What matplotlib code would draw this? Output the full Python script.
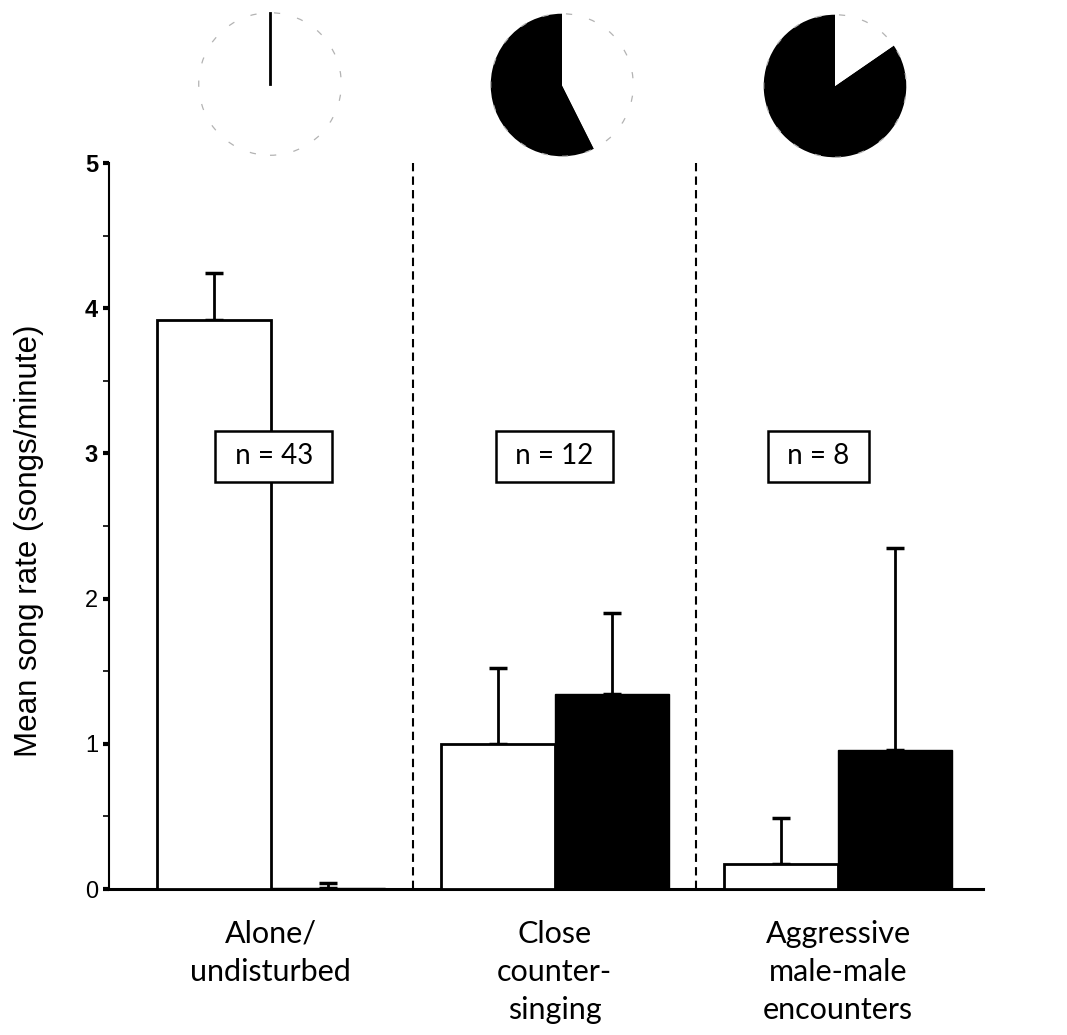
import matplotlib.pyplot as plt
from matplotlib.patches import Circle

# song rate per context, mean and upper SE
contexts = ["Alone/\nundisturbed", "Close\ncounter-\nsinging", "Aggressive\nmale-male\nencounters"]
white_mean = [3.92, 1.00, 0.17]
white_err = [0.32, 0.52, 0.32]
black_mean = [0.01, 1.34, 0.96]
black_err = [0.03, 0.56, 1.39]
n_birds = [43, 12, 8]
# share of black in the pies above each group
black_share = [0.0, 0.574, 0.846]

W, H = 1067, 1035
fig = plt.figure(figsize=(W / 100, H / 100), dpi=100)

def px_axes(x0, y0, x1, y1):
    # axes from pixel box (top-left origin)
    return fig.add_axes([x0 / W, 1 - y1 / H, (x1 - x0) / W, (y1 - y0) / H])

ax = px_axes(109, 163, 983, 889)
bw = 0.402
x = list(range(len(contexts)))

ax.bar([i - bw / 2 for i in x], white_mean, bw, color="white", edgecolor="black", linewidth=2, zorder=3)
ax.bar([i + bw / 2 for i in x], black_mean, bw, color="black", edgecolor="black", linewidth=1, zorder=3)
ax.errorbar([i - bw / 2 for i in x], white_mean, yerr=[[0] * 3, white_err], fmt="none",
            ecolor="black", elinewidth=2, capsize=6.5, capthick=2.5, zorder=2)
ax.errorbar([i + bw / 2 for i in x], black_mean, yerr=[[0] * 3, black_err], fmt="none",
            ecolor="black", elinewidth=2, capsize=6.5, capthick=2.5, zorder=2)

for xd in [0.5, 1.5]:
    ax.plot([xd, xd], [0, 5], color="black", lw=1.5, ls=(0, (4, 2.5)), zorder=1)

box_x = [0.01, 1.0, 1.93]
for bx, n in zip(box_x, n_birds):
    ax.text(bx, 2.98, f" n = {n} ", ha="center", va="center", fontsize=20, family="Lato",
            zorder=5, bbox=dict(boxstyle="square,pad=0.45", fc="white", ec="black", lw=1.8))

ax.set_xlim(-0.571, 2.511)
ax.set_ylim(0, 5)
for s in ["top", "right"]:
    ax.spines[s].set_visible(False)
ax.spines["left"].set_linewidth(1.5)
ax.spines["bottom"].set_linewidth(2.2)

ax.set_yticks([0, 1, 2, 3, 4, 5])
ax.set_yticks([0.5, 1.5, 2.5, 3.5, 4.5], minor=True)
ax.tick_params(axis="y", which="major", length=4, width=3, pad=4)
ax.tick_params(axis="y", which="minor", length=4, width=1.2)
ax.set_yticklabels(["0", "1", "2", "3", "4", "5"], fontsize=17, family="Liberation Sans")
for lab in ax.get_yticklabels()[3:]:
    lab.set_fontweight("bold")

ax.set_xticks(x)
ax.set_xticklabels(contexts, fontsize=22, family="Lato", linespacing=1.45)
ax.tick_params(axis="x", length=0, pad=22)

fig.text(29 / W, 1 - 541 / H, "Mean song rate (songs/minute)", rotation=90, ha="center", va="center",
         fontsize=22.5, family="Liberation Sans")

# pies over each group, faint broken outline
centers = [(270, 84), (562, 85), (835, 86)]
r = 72
for (cx, cy), share in zip(centers, black_share):
    pax = px_axes(cx - r, cy - r, cx + r, cy + r)
    if share > 0:
        pax.pie([share, 1 - share], colors=["black", "white"], startangle=90, counterclock=True,
                radius=1, wedgeprops=dict(linewidth=0))
    else:
        pax.plot([0, 0], [0, 1], color="black", lw=2)
    pax.add_patch(Circle((0, 0), 1, fill=False, ec="0.7", lw=0.9, ls=(0, (5, 14))))
    pax.set_xlim(-1.01, 1.01)
    pax.set_ylim(-1.01, 1.01)
    pax.set_aspect("equal")
    pax.axis("off")

fig.savefig("out.png", dpi=100)
